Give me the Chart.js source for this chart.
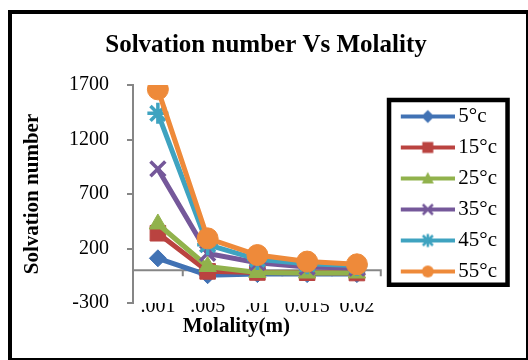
<!DOCTYPE html>
<html>
<head>
<meta charset="utf-8">
<script src="https://cdn.jsdelivr.net/npm/chart.js@4/dist/chart.umd.min.js"></script>
<style>
  html, body { margin: 0; padding: 0; background: #ffffff; }
  #wrap { position: absolute; left: 0; top: 0; width: 528px; height: 360px; }
  #frame { position: absolute; left: 8px; top: 10px; width: 520px; height: 350px; box-sizing: border-box;
           border-left: 4px solid #000; border-top: 4px solid #000; border-right: 2px solid #000; border-bottom: 2px solid #000;
           pointer-events: none; }
</style>
</head>
<body>
<div id="wrap"><canvas id="c" width="528" height="360"></canvas></div>
<div id="frame"></div>
<script>
// ---- data ----
const categories = ['.001', '.005', '.01', '0.015', '0.02'];
const seriesNames = ['5°c', '15°c', '25°c', '35°c', '45°c', '55°c'];
const s5  = [110, -45, -35, -35, -35];
const s15 = [340, -10, -20, -22, -25];
const s25 = [425, 35, -20, -25, -25];
const s35 = [930, 155, 70, 30, 20];
const s45 = [1440, 235, 100, 60, 45];
const s55 = [1660, 293, 140, 80, 55];
const yTickValues = [-300, 200, 700, 1200, 1700];

const seriesValues = [s5, s15, s25, s35, s45, s55];
const colors = ['#4172B4', '#BA4340', '#91B24C', '#75589A', '#3FA3C0', '#EE8A3A'];
const markers = ['rectRot', 'rect', 'triangle', 'crossRot', 'star', 'circle'];
const markerRadius = [8.5, 11, 10, 10.5, 10.5, 10.5];
const markerBorder = [1, 1, 1, 3.5, 3.5, 1];

const SERIF = '"Liberation Serif", "Times New Roman", serif';

// legend sample images: line + marker
function legendImage(i) {
  const cv = document.createElement('canvas');
  cv.width = 70; cv.height = 20;
  const c = cv.getContext('2d');
  const col = colors[i];
  c.strokeStyle = col; c.fillStyle = col; c.lineWidth = 4;
  c.beginPath(); c.moveTo(16, 10); c.lineTo(70, 10); c.stroke();
  const x = 43, y = 10;
  const m = markers[i];
  c.beginPath();
  if (m === 'rectRot') { const r = 6.5; c.moveTo(x, y - r); c.lineTo(x + r, y); c.lineTo(x, y + r); c.lineTo(x - r, y); c.closePath(); c.fill(); }
  else if (m === 'rect') { c.rect(x - 5.5, y - 5.5, 11, 11); c.fill(); }
  else if (m === 'triangle') { c.moveTo(x, y - 6.5); c.lineTo(x + 6, y + 5); c.lineTo(x - 6, y + 5); c.closePath(); c.fill(); }
  else if (m === 'crossRot') { c.lineWidth = 2.5; c.moveTo(x - 5, y - 5); c.lineTo(x + 5, y + 5); c.moveTo(x + 5, y - 5); c.lineTo(x - 5, y + 5); c.stroke(); }
  else if (m === 'star') { c.lineWidth = 2.5; c.moveTo(x - 5, y - 5); c.lineTo(x + 5, y + 5); c.moveTo(x + 5, y - 5); c.lineTo(x - 5, y + 5); c.moveTo(x, y - 6.5); c.lineTo(x, y + 6.5); c.stroke(); }
  else { c.arc(x, y, 6, 0, Math.PI * 2); c.fill(); }
  return cv;
}
const legendImgs = seriesNames.map((_, i) => legendImage(i));

const datasets = seriesNames.map((name, i) => ({
  label: name,
  data: seriesValues[i],
  borderColor: colors[i],
  backgroundColor: colors[i],
  borderWidth: 5,
  pointStyle: markers[i],
  pointRadius: markerRadius[i],
  pointHoverRadius: markerRadius[i],
  pointBorderWidth: markerBorder[i],
  pointBackgroundColor: colors[i],
  pointBorderColor: colors[i],
  tension: 0,
  order: seriesNames.length - i
}));

const zeroLinePlugin = {
  id: 'zeroLine',
  beforeDatasetsDraw(chart) {
    const { ctx, chartArea } = chart;
    const x = chart.scales.x, y = chart.scales.y;
    const y0 = y.getPixelForValue(0);
    ctx.save();
    ctx.strokeStyle = '#868686';
    ctx.lineWidth = 2;
    ctx.beginPath();
    ctx.moveTo(chartArea.left, y0); ctx.lineTo(chartArea.right, y0);
    const n = categories.length;
    for (let i = 0; i < n; i++) {
      const px = i + 1 < n ? (x.getPixelForValue(i) + x.getPixelForValue(i + 1)) / 2 : chartArea.right - 1;
      ctx.moveTo(px, y0); ctx.lineTo(px, y0 + 6);
    }
    ctx.stroke();
    ctx.restore();
  }
};

const legendFramePlugin = {
  id: 'legendFrame',
  afterDraw(chart) {
    const lg = chart.legend;
    if (!lg || !lg.legendHitBoxes || !lg.legendHitBoxes.length) return;
    const hb = lg.legendHitBoxes;
    const first = hb[0], last = hb[hb.length - 1];
    const left = first.left - 2.75;
    const right = left + 118.5;
    const top = first.top - 6;
    const bottom = last.top + last.height + 2.75;
    const ctx = chart.ctx;
    ctx.save();
    ctx.strokeStyle = '#000';
    ctx.lineWidth = 4.5;
    ctx.strokeRect(left, top, right - left, bottom - top);
    ctx.restore();
  }
};

new Chart(document.getElementById('c'), {
  type: 'line',
  data: { labels: categories, datasets },
  plugins: [zeroLinePlugin, legendFramePlugin],
  options: {
    responsive: false,
    animation: false,
    layout: { padding: { left: 0, right: 21, top: 0, bottom: 0 } },
    plugins: {
      title: {
        display: true,
        text: '\u00a0\u00a0\u00a0\u00a0Solvation number Vs Molality',
        color: '#000',
        font: { family: SERIF, size: 25, weight: 'bold' },
        padding: { top: 31, bottom: 24 }
      },
      legend: {
        display: true,
        position: 'right',
        fullSize: false,
        labels: {
          usePointStyle: true,
          pointStyleWidth: 56,
          color: '#000',
          font: { family: SERIF, size: 21 },
          padding: 10,
          sort: (a, b) => a.datasetIndex - b.datasetIndex,
          generateLabels(chart) {
            const items = Chart.defaults.plugins.legend.labels.generateLabels(chart);
            items.forEach(it => { it.pointStyle = legendImgs[it.datasetIndex]; });
            return items;
          }
        }
      },
      tooltip: { enabled: false }
    },
    scales: {
      x: {
        type: 'category',
        offset: true,
        grid: { display: false, drawTicks: false },
        border: { display: false },
        ticks: { color: '#000', font: { family: SERIF, size: 20 }, padding: -8, maxRotation: 0, autoSkip: false },
        title: {
          display: true,
          text: 'Molality(m)\u00a0\u00a0\u00a0\u00a0\u00a0\u00a0\u00a0\u00a0',
          color: '#000',
          font: { family: SERIF, size: 21, weight: 'bold' },
          padding: { top: 0, bottom: 21 }
        },
        afterFit(scale) { scale.height = 57; }
      },
      y: {
        min: yTickValues[0],
        max: yTickValues[yTickValues.length - 1],
        afterBuildTicks(scale) { scale.ticks = yTickValues.map(v => ({ value: v })); },
        grid: { drawOnChartArea: false, drawTicks: true, tickLength: 6, color: '#868686', lineWidth: 2 },
        border: { display: true, color: '#868686', width: 2 },
        ticks: { color: '#000', font: { family: SERIF, size: 20 }, padding: 18, callback: (v) => String(v) },
        title: {
          display: true,
          text: 'Solvation number',
          color: '#000',
          font: { family: SERIF, size: 21, weight: 'bold' },
          padding: { top: 20, bottom: 0 }
        },
        afterFit(scale) { scale.width = 133; }
      }
    }
  }
});
</script>
</body>
</html>
